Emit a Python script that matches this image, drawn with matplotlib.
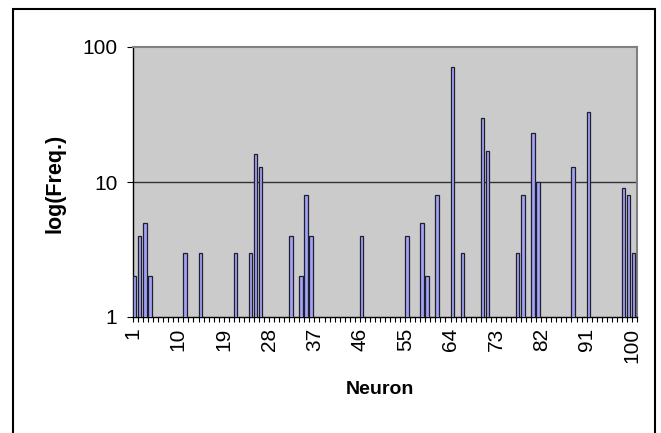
import matplotlib
matplotlib.use("Agg")
import matplotlib.pyplot as plt
import matplotlib.patches as mpatches
import numpy as np

plt.rcParams['font.family'] = ['Liberation Sans', 'DejaVu Sans']

# Data (neuron index -> frequency)
neurons = [1, 2, 3, 4, 11, 14, 21, 24, 25, 26, 32, 34, 35, 36, 46, 55, 58, 59,
           61, 64, 66, 70, 71, 77, 78, 80, 81, 88, 91, 98, 99, 100]
freqs = [2, 4, 5, 2, 3, 3, 3, 3, 16, 13, 4, 2, 8, 4, 4, 4, 5, 2,
         8, 71, 3, 30, 17, 3, 8, 23, 10, 13, 33, 9, 8, 3]
xtick_labels = [1, 10, 19, 28, 37, 46, 55, 64, 73, 82, 91, 100]
ytick_values = [1, 10, 100]

W, H = 661, 433
fig = plt.figure(figsize=(W / 100, H / 100), dpi=100)
fig.patch.set_facecolor('white')

left, right, top, bottom = 133, 637, 47, 317
ax = fig.add_axes([left / W, 1 - bottom / H, (right - left) / W, (bottom - top) / H])
ax.set_facecolor('#CBCBCB')

ax.bar(neurons, freqs, width=0.68, align='edge', color='#A3A3F6',
       edgecolor='#1E1E2E', linewidth=0.9, zorder=3)

ax.set_yscale('log')
ax.set_ylim(1, 100)
ax.set_xlim(1, 101)

ax.set_yticks(ytick_values)
ax.set_yticklabels([str(v) for v in ytick_values])
ax.yaxis.set_minor_locator(matplotlib.ticker.NullLocator())
ax.tick_params(axis='y', which='major', direction='out', length=4.3, width=0.8,
               labelsize=15, pad=7)

ax.set_xticks(xtick_labels)
ax.set_xticklabels([str(v) for v in xtick_labels], rotation=90)
ax.set_xticks(np.arange(1, 102), minor=True)
ax.tick_params(axis='x', which='both', direction='out', length=3.6, width=0.8)
ax.tick_params(axis='x', which='major', labelsize=15, pad=4)

# gridline at 10 (100 coincides with top border)
ax.axhline(10, color='#333333', linewidth=1.0, zorder=2)

for s in ['left', 'bottom']:
    ax.spines[s].set_color('black')
    ax.spines[s].set_linewidth(1.0)
for s in ['top', 'right']:
    ax.spines[s].set_color('#808080')
    ax.spines[s].set_linewidth(1.5)

fig.text(55 / W, 1 - 183 / H, 'log(Freq.)', rotation=90, ha='center', va='center',
         fontsize=15.5, fontweight='bold')
fig.text(380 / W, 1 - 390 / H, 'Neuron', ha='center', va='center',
         fontsize=14, fontweight='bold')

# chart border (bottom edge cut off)
border = mpatches.Rectangle((13 / W, -0.05), (655 - 13) / W, (1 - 9 / H) + 0.05,
                            transform=fig.transFigure, fill=False,
                            edgecolor='black', linewidth=1.5, clip_on=False)
fig.patches.append(border)

fig.savefig('out.png', dpi=100)
